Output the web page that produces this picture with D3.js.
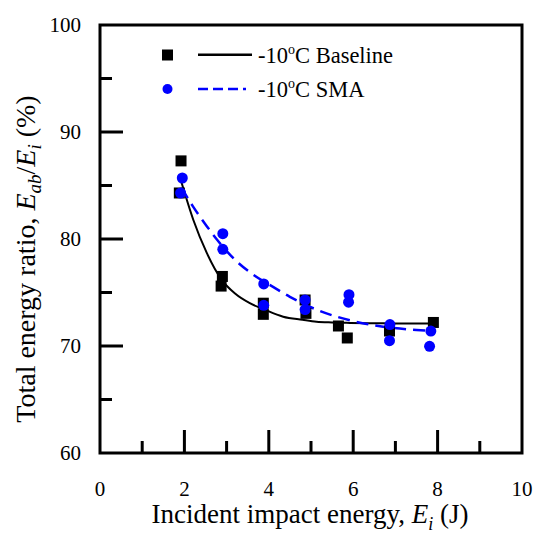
<!DOCTYPE html>
<html>
<head>
<meta charset="utf-8">
<script src="https://cdn.jsdelivr.net/npm/d3@7"></script>
<style>
  body { margin: 0; background: #fff; }
  text { font-family: 'Liberation Serif', 'Times New Roman', Times, 'DejaVu Serif', serif; }
</style>
</head>
<body>
<svg id="chart" width="550" height="552"></svg>
<script>
// ---- data ----
const baselineX = [1.92, 1.88, 2.90, 2.87, 3.87, 3.87, 4.88, 4.86, 5.65, 5.86, 6.86, 7.90];
const baselineY = [87.3, 84.3, 76.5, 75.6, 74.0, 72.96, 73.05, 74.3, 71.87, 70.75, 71.4, 72.2];
const smaX = [1.95, 1.91, 2.91, 2.91, 3.88, 3.88, 4.86, 4.86, 5.90, 5.89, 6.87, 6.86, 7.84, 7.81];
const smaY = [85.7, 84.3, 80.5, 79.04, 75.8, 73.8, 74.3, 73.4, 74.8, 74.1, 72.0, 70.5, 71.4, 69.97];
const baselineFitX = [1.93, 2.21, 2.53, 2.88, 3.2, 3.55, 3.9, 4.34, 4.8, 5.13, 5.5, 5.92, 6.4, 6.71, 7.3, 7.9];
const baselineFitY = [85.3, 81.8, 78.7, 76.2, 74.9, 74.0, 73.4, 72.74, 72.45, 72.27, 72.2, 72.16, 72.13, 72.12, 72.1, 72.1];
const smaFitX = [1.93, 2.21, 2.53, 2.76, 3.24, 3.55, 4.11, 4.5, 5.13, 5.92, 6.71, 7.5, 7.84];
const smaFitY = [84.8, 83.0, 81.2, 80.0, 77.9, 76.9, 75.5, 74.6, 73.4, 72.4, 71.8, 71.5, 71.43];
const xTicks = [0, 2, 4, 6, 8, 10];
const xMinorTicks = [1, 3, 5, 7, 9];
const yTicks = [60, 70, 80, 90, 100];
const yMinorTicks = [65, 75, 85, 95];
const seriesNames = ["-10", "-10"];

// ---- layout ----
const L = 100, R = 522, T = 25, B = 453;
const FONT = "'Liberation Serif', 'Times New Roman', serif";
const svg = d3.select("#chart").attr("font-family", FONT);
const x = d3.scaleLinear().domain([0, 10]).range([L, R]);
const y = d3.scaleLinear().domain([60, 100]).range([B, T]);

// ticks (inward, left and bottom only)
const g = svg.append("g");
g.selectAll(".xmaj").data(xTicks.filter(d => d > 0 && d < 10)).join("line")
  .attr("x1", d => x(d)).attr("x2", d => x(d)).attr("y1", B).attr("y2", B - 23)
  .attr("stroke", "#000").attr("stroke-width", 3);
g.selectAll(".xmin").data(xMinorTicks).join("line")
  .attr("x1", d => x(d)).attr("x2", d => x(d)).attr("y1", B).attr("y2", B - 12)
  .attr("stroke", "#000").attr("stroke-width", 3);
g.selectAll(".ymaj").data(yTicks.filter(d => d > 60 && d < 100)).join("line")
  .attr("x1", L).attr("x2", L + 23).attr("y1", d => y(d)).attr("y2", d => y(d))
  .attr("stroke", "#000").attr("stroke-width", 3);
g.selectAll(".ymin").data(yMinorTicks).join("line")
  .attr("x1", L).attr("x2", L + 12).attr("y1", d => y(d)).attr("y2", d => y(d))
  .attr("stroke", "#000").attr("stroke-width", 3);

// frame
svg.append("rect").attr("x", L).attr("y", T).attr("width", R - L).attr("height", B - T)
  .attr("fill", "none").attr("stroke", "#000").attr("stroke-width", 3);

// tick labels
svg.selectAll(".xl").data(xTicks).join("text")
  .attr("font-family", FONT)
  .attr("x", d => x(d)).attr("y", 496).attr("text-anchor", "middle")
  .attr("font-size", 21).text(d => d);
svg.selectAll(".yl").data(yTicks).join("text")
  .attr("font-family", FONT)
  .attr("x", 81).attr("y", d => y(d) + 7).attr("text-anchor", "end")
  .attr("font-size", 21).text(d => d);

// axis titles
const xt = svg.append("text").attr("font-family", FONT).attr("x", 310).attr("y", 523).attr("text-anchor", "middle").attr("font-size", 27);
xt.append("tspan").text("Incident impact energy, ");
xt.append("tspan").attr("font-style", "italic").text("E");
xt.append("tspan").attr("font-style", "italic").attr("font-size", 18).attr("dy", 7).text("i");
xt.append("tspan").attr("dy", -7).text(" (J)");

const yt = svg.append("text").attr("font-family", FONT).attr("transform", "translate(35,259) rotate(-90)")
  .attr("text-anchor", "middle").attr("font-size", 28);
yt.append("tspan").text("Total energy ratio, ");
yt.append("tspan").attr("font-style", "italic").text("E");
yt.append("tspan").attr("font-style", "italic").attr("font-size", 19).attr("dy", 6).text("ab");
yt.append("tspan").attr("dy", -6).text("/");
yt.append("tspan").attr("font-style", "italic").text("E");
yt.append("tspan").attr("font-style", "italic").attr("font-size", 19).attr("dy", 6).text("i");
yt.append("tspan").attr("dy", -6).text(" (%)");

// fit lines
const line = d3.line().x(d => x(d[0])).y(d => y(d[1])).curve(d3.curveMonotoneX);
svg.append("path").datum(d3.zip(baselineFitX, baselineFitY)).attr("d", line)
  .attr("fill", "none").attr("stroke", "#000").attr("stroke-width", 2);
svg.append("path").datum(d3.zip(smaFitX, smaFitY)).attr("d", line)
  .attr("fill", "none").attr("stroke", "#0000ff").attr("stroke-width", 2.5)
  .attr("stroke-dasharray", "12,7");

// markers
svg.selectAll(".sq").data(d3.zip(baselineX, baselineY)).join("rect")
  .attr("x", d => x(d[0]) - 5.5).attr("y", d => y(d[1]) - 5.5)
  .attr("width", 11).attr("height", 11).attr("fill", "#000");
svg.selectAll(".ci").data(d3.zip(smaX, smaY)).join("circle")
  .attr("cx", d => x(d[0])).attr("cy", d => y(d[1])).attr("r", 5.5).attr("fill", "#0000ff");

// legend
svg.append("rect").attr("x", 162).attr("y", 49.5).attr("width", 11).attr("height", 11).attr("fill", "#000");
svg.append("line").attr("x1", 198).attr("x2", 252).attr("y1", 54.7).attr("y2", 54.7)
  .attr("stroke", "#000").attr("stroke-width", 2.5);
svg.append("circle").attr("cx", 167.5).attr("cy", 89).attr("r", 5).attr("fill", "#0000ff");
svg.append("line").attr("x1", 198).attr("x2", 246).attr("y1", 89).attr("y2", 89)
  .attr("stroke", "#0000ff").attr("stroke-width", 2.5).attr("stroke-dasharray", "10,5");

const legendLabels = [["Baseline", 63], ["SMA", 97]];
legendLabels.forEach((d, i) => {
  const t = svg.append("text").attr("font-family", FONT).attr("x", 258).attr("y", d[1]).attr("font-size", 22.5);
  t.append("tspan").text(seriesNames[i]);
  t.append("tspan").attr("font-size", 14).attr("dy", -9).text("o");
  t.append("tspan").attr("dy", 9).text("C " + d[0]);
});
</script>
</body>
</html>
